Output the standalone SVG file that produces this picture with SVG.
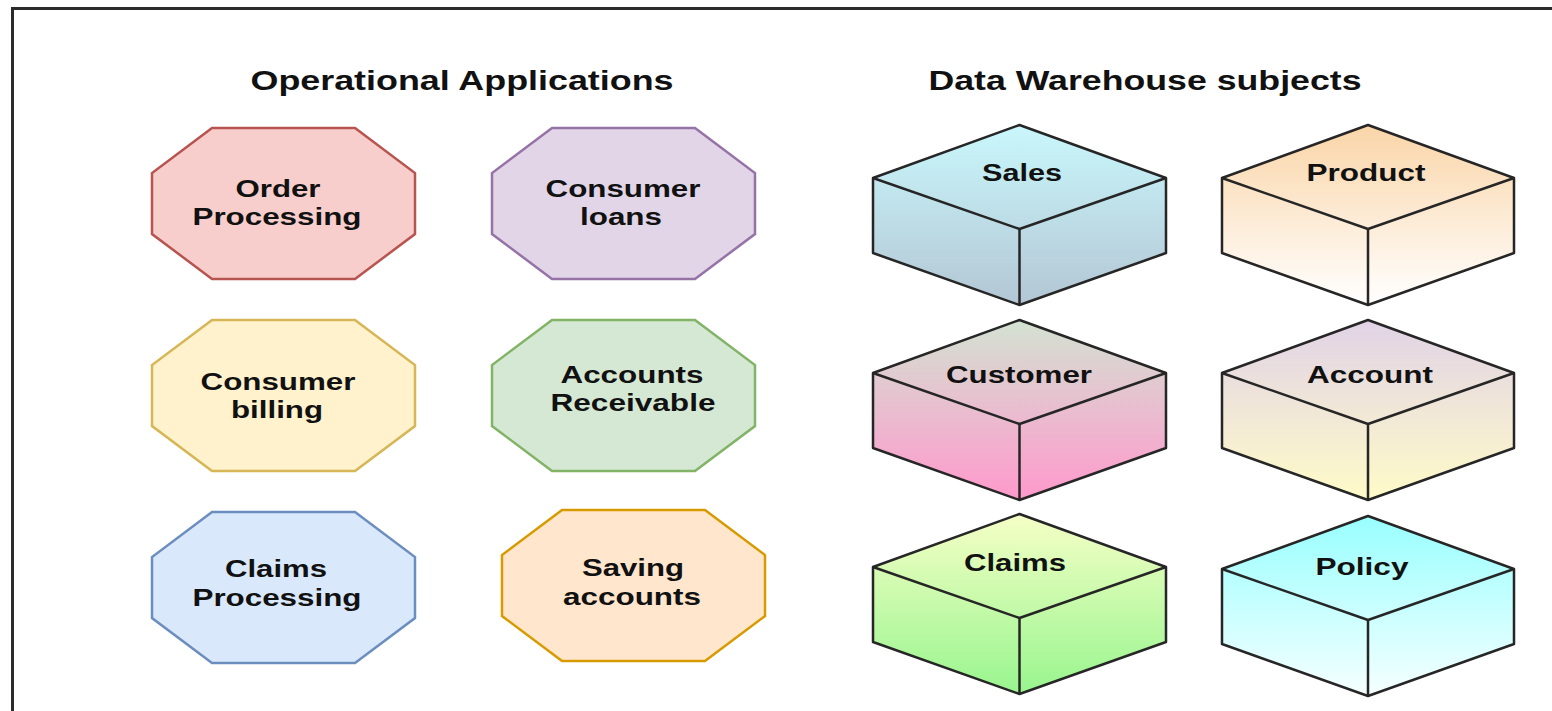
<svg xmlns="http://www.w3.org/2000/svg" width="1552" height="711" viewBox="0 0 1552 711">
<style>
.frame{fill:none;stroke:#2b2b2b;stroke-width:3}
.oct{stroke-width:2.5}
.cube{stroke:#262626;stroke-width:2.5;stroke-linejoin:round}
.edge{fill:none;stroke:#262626;stroke-width:2.5;stroke-linejoin:round}
.title{font-family:"Liberation Sans",Arial,sans-serif;font-weight:bold;font-size:27px;fill:#111;text-anchor:middle}
.lbl{font-family:"Liberation Sans",Arial,sans-serif;font-weight:bold;font-size:23px;fill:#111;text-anchor:middle}
.red{fill:#f8cecc;stroke:#b85450}
.purple{fill:#e1d5e7;stroke:#9673a6}
.yellow{fill:#fff2cc;stroke:#d6b656}
.green{fill:#d5e8d4;stroke:#82b366}
.blue{fill:#dae8fc;stroke:#6c8ebf}
.orange{fill:#ffe6cc;stroke:#d79b00}
</style>
<defs>
<polygon id="octShape" points="60,0 203,0 263,45 263,106 203,151 60,151 0,106 0,45"/>
<linearGradient id="gSales" x1="0" y1="0" x2="0" y2="1"><stop offset="0" stop-color="#c9f7fc"/><stop offset="1" stop-color="#b3c6d4"/></linearGradient>
<linearGradient id="gProduct" x1="0" y1="0" x2="0" y2="1"><stop offset="0" stop-color="#fad5a8"/><stop offset="1" stop-color="#ffffff"/></linearGradient>
<linearGradient id="gCustomer" x1="0" y1="0" x2="0" y2="1"><stop offset="0" stop-color="#d3e2d2"/><stop offset="1" stop-color="#ff99cc"/></linearGradient>
<linearGradient id="gAccount" x1="0" y1="0" x2="0" y2="1"><stop offset="0" stop-color="#e1d3e6"/><stop offset="1" stop-color="#fffbc8"/></linearGradient>
<linearGradient id="gClaims" x1="0" y1="0" x2="0" y2="1"><stop offset="0" stop-color="#f5ffc6"/><stop offset="1" stop-color="#98f58e"/></linearGradient>
<linearGradient id="gPolicy" x1="0" y1="0" x2="0" y2="1"><stop offset="0" stop-color="#99ffff"/><stop offset="1" stop-color="#f6ffff"/></linearGradient>
</defs>
<rect width="1552" height="711" fill="#ffffff"/>
<polyline class="frame" points="12.5,712 12.5,8.5 1553,8.5"/>

<text class="title" x="462" y="90" textLength="423" lengthAdjust="spacingAndGlyphs">Operational Applications</text>
<text class="title" x="1145" y="90" textLength="433" lengthAdjust="spacingAndGlyphs">Data Warehouse subjects</text>

<g id="connectors"></g>

<g id="order-processing" transform="translate(152,128)">
<use href="#octShape" class="oct red"/>
<text class="lbl" x="126" y="68.5" textLength="85" lengthAdjust="spacingAndGlyphs">Order</text>
<text class="lbl" x="125" y="96.5" textLength="169" lengthAdjust="spacingAndGlyphs">Processing</text>
</g>
<g id="consumer-loans" transform="translate(492,128)">
<use href="#octShape" class="oct purple"/>
<text class="lbl" x="131" y="68.5" textLength="155" lengthAdjust="spacingAndGlyphs">Consumer</text>
<text class="lbl" x="129" y="96.5" textLength="82" lengthAdjust="spacingAndGlyphs">loans</text>
</g>
<g id="consumer-billing" transform="translate(152,320)">
<use href="#octShape" class="oct yellow"/>
<text class="lbl" x="126" y="69.5" textLength="155" lengthAdjust="spacingAndGlyphs">Consumer</text>
<text class="lbl" x="125" y="97.5" textLength="92" lengthAdjust="spacingAndGlyphs">billing</text>
</g>
<g id="accounts-receivable" transform="translate(492,320)">
<use href="#octShape" class="oct green"/>
<text class="lbl" x="140" y="62.5" textLength="143" lengthAdjust="spacingAndGlyphs">Accounts</text>
<text class="lbl" x="141" y="90.5" textLength="165" lengthAdjust="spacingAndGlyphs">Receivable</text>
</g>
<g id="claims-processing" transform="translate(152,512)">
<use href="#octShape" class="oct blue"/>
<text class="lbl" x="124" y="64.5" textLength="102" lengthAdjust="spacingAndGlyphs">Claims</text>
<text class="lbl" x="125" y="93.5" textLength="169" lengthAdjust="spacingAndGlyphs">Processing</text>
</g>
<g id="saving-accounts" transform="translate(502,510)">
<use href="#octShape" class="oct orange"/>
<text class="lbl" x="131" y="65.5" textLength="102" lengthAdjust="spacingAndGlyphs">Saving</text>
<text class="lbl" x="130" y="94.5" textLength="138" lengthAdjust="spacingAndGlyphs">accounts</text>
</g>

<g id="sales" transform="translate(873,125)">
<polygon class="cube" fill="url(#gSales)" points="146.5,0 293,53 293,128 146.5,180 0,128 0,53"/>
<polyline class="edge" points="0,53 146.5,104 293,53"/>
<line class="edge" x1="146.5" y1="104" x2="146.5" y2="180"/>
<text class="lbl" x="149" y="55.5" textLength="80" lengthAdjust="spacingAndGlyphs">Sales</text>
</g>
<g id="product" transform="translate(1222,125)">
<polygon class="cube" fill="url(#gProduct)" points="146,0 292,53 292,128 146,180 0,128 0,53"/>
<polyline class="edge" points="0,53 146,104 292,53"/>
<line class="edge" x1="146" y1="104" x2="146" y2="180"/>
<text class="lbl" x="144" y="55.5" textLength="119" lengthAdjust="spacingAndGlyphs">Product</text>
</g>
<g id="customer" transform="translate(873,320)">
<polygon class="cube" fill="url(#gCustomer)" points="146.5,0 293,53 293,128 146.5,180 0,128 0,53"/>
<polyline class="edge" points="0,53 146.5,104 293,53"/>
<line class="edge" x1="146.5" y1="104" x2="146.5" y2="180"/>
<text class="lbl" x="146" y="62.5" textLength="146" lengthAdjust="spacingAndGlyphs">Customer</text>
</g>
<g id="account" transform="translate(1222,320)">
<polygon class="cube" fill="url(#gAccount)" points="146,0 292,53 292,128 146,180 0,128 0,53"/>
<polyline class="edge" points="0,53 146,104 292,53"/>
<line class="edge" x1="146" y1="104" x2="146" y2="180"/>
<text class="lbl" x="148" y="62.5" textLength="126" lengthAdjust="spacingAndGlyphs">Account</text>
</g>
<g id="claims" transform="translate(873,514)">
<polygon class="cube" fill="url(#gClaims)" points="146.5,0 293,53 293,128 146.5,180 0,128 0,53"/>
<polyline class="edge" points="0,53 146.5,104 293,53"/>
<line class="edge" x1="146.5" y1="104" x2="146.5" y2="180"/>
<text class="lbl" x="142" y="56.5" textLength="102" lengthAdjust="spacingAndGlyphs">Claims</text>
</g>
<g id="policy" transform="translate(1222,516)">
<polygon class="cube" fill="url(#gPolicy)" points="146,0 292,53 292,128 146,180 0,128 0,53"/>
<polyline class="edge" points="0,53 146,104 292,53"/>
<line class="edge" x1="146" y1="104" x2="146" y2="180"/>
<text class="lbl" x="140" y="58.5" textLength="93" lengthAdjust="spacingAndGlyphs">Policy</text>
</g>
</svg>
